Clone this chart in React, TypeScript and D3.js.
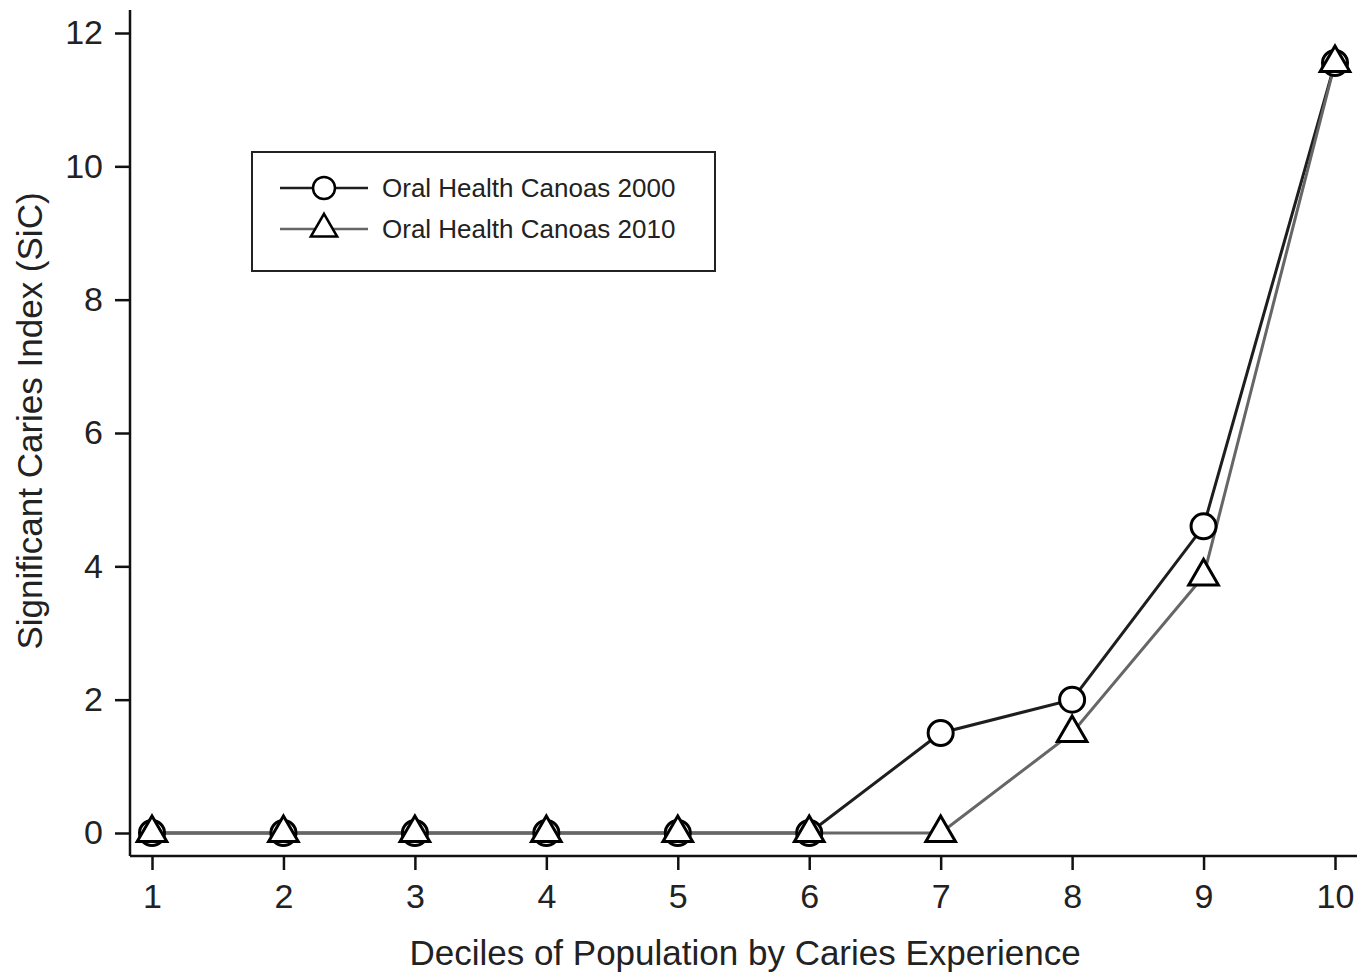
import React, { useRef, useEffect } from "react";
import * as d3 from "d3";

const deciles = [1, 2, 3, 4, 5, 6, 7, 8, 9, 10];
const sic2000 = [0, 0, 0, 0, 0, 0, 1.5, 2.0, 4.6, 11.55];
const sic2010 = [0, 0, 0, 0, 0, 0, 0, 1.5, 3.85, 11.55];
const yTicks = [0, 2, 4, 6, 8, 10, 12];
const seriesNames = ["Oral Health Canoas 2000", "Oral Health Canoas 2010"];

const App = () => {
  const svgRef = useRef<SVGSVGElement>(null);

  useEffect(() => {
    const width = 1371;
    const height = 973;
    const font = "Liberation Sans, Arial, sans-serif";

    const svg = d3.select(svgRef.current);
    svg.selectAll("*").remove();
    svg.attr("width", width).attr("height", height);

    const x = d3.scaleLinear().domain([1, 10]).range([152, 1335]);
    const y = d3.scaleLinear().domain([0, 12]).range([833, 33]);

    // axes
    const xAxis = svg
      .append("g")
      .attr("transform", "translate(0,856)")
      .call(d3.axisBottom(x).tickValues(deciles).tickFormat(d3.format("d")).tickSize(14).tickSizeOuter(0).tickPadding(14));
    xAxis.select(".domain").attr("d", "M130,0H1357").attr("stroke-width", 2.5);

    const yAxis = svg
      .append("g")
      .attr("transform", "translate(130,0)")
      .call(d3.axisLeft(y).tickValues(yTicks).tickSize(15).tickSizeOuter(0).tickPadding(12));
    yAxis.select(".domain").attr("d", "M0,10V856").attr("stroke-width", 2.5);

    svg.selectAll(".tick line").attr("stroke-width", 2.5).attr("stroke", "#111");
    svg.selectAll(".tick text").attr("font-family", font).attr("font-size", 34).attr("fill", "#222");
    svg.selectAll(".domain").attr("stroke", "#111");

    // titles
    svg
      .append("text")
      .attr("x", 745)
      .attr("y", 965)
      .attr("text-anchor", "middle")
      .attr("font-family", font)
      .attr("font-size", 35)
      .attr("fill", "#222")
      .text("Deciles of Population by Caries Experience");

    svg
      .append("text")
      .attr("transform", "translate(42,421) rotate(-90)")
      .attr("text-anchor", "middle")
      .attr("font-family", font)
      .attr("font-size", 35)
      .attr("fill", "#222")
      .text("Significant Caries Index (SiC)");

    const line = d3
      .line<number>()
      .x((_, i) => x(deciles[i]))
      .y((d) => y(d));

    svg.append("path").datum(sic2000).attr("d", line).attr("fill", "none").attr("stroke", "#1e1e1e").attr("stroke-width", 3);
    svg.append("path").datum(sic2010).attr("d", line).attr("fill", "none").attr("stroke", "#666").attr("stroke-width", 3);

    const triangle = d3.symbol().type(d3.symbolTriangle).size(380);

    svg
      .selectAll(".c2000")
      .data(sic2000)
      .enter()
      .append("circle")
      .attr("cx", (_, i) => x(deciles[i]))
      .attr("cy", (d) => y(d))
      .attr("r", 12.5)
      .attr("fill", "#fff")
      .attr("stroke", "#000")
      .attr("stroke-width", 3);

    svg
      .selectAll(".t2010")
      .data(sic2010)
      .enter()
      .append("path")
      .attr("d", triangle)
      .attr("transform", (d, i) => `translate(${x(deciles[i])},${y(d)})`)
      .attr("fill", "#fff")
      .attr("stroke", "#000")
      .attr("stroke-width", 3);

    // legend
    const legend = svg.append("g");
    legend
      .append("rect")
      .attr("x", 252)
      .attr("y", 152)
      .attr("width", 463)
      .attr("height", 119)
      .attr("fill", "#fff")
      .attr("stroke", "#222")
      .attr("stroke-width", 2);

    seriesNames.forEach((name, i) => {
      const ly = 188 + i * 41;
      legend
        .append("line")
        .attr("x1", 280)
        .attr("x2", 368)
        .attr("y1", ly)
        .attr("y2", ly)
        .attr("stroke", i === 0 ? "#1e1e1e" : "#666")
        .attr("stroke-width", 2.5);
      if (i === 0) {
        legend.append("circle").attr("cx", 324).attr("cy", ly).attr("r", 11).attr("fill", "#fff").attr("stroke", "#000").attr("stroke-width", 2.5);
      } else {
        legend
          .append("path")
          .attr("d", d3.symbol().type(d3.symbolTriangle).size(300))
          .attr("transform", `translate(324,${ly})`)
          .attr("fill", "#fff")
          .attr("stroke", "#000")
          .attr("stroke-width", 2.5);
      }
      legend
        .append("text")
        .attr("x", 382)
        .attr("y", ly + 9)
        .attr("font-family", font)
        .attr("font-size", 26)
        .attr("fill", "#222")
        .text(name);
    });
  }, []);

  return <svg ref={svgRef} style={{ position: "absolute", left: 0, top: 0 }}></svg>;
};

export default App;
